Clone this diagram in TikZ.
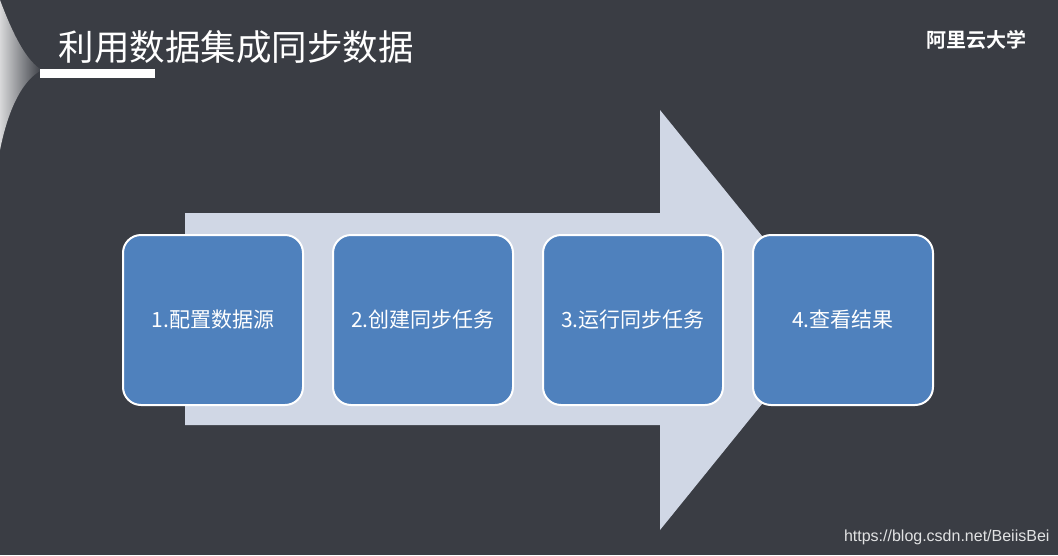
\documentclass[tikz,border=0pt]{standalone}
\usepackage{fontspec}
\setmainfont{Noto Sans CJK SC}
\newfontfamily\cjkb{Noto Sans CJK SC Bold}
\newfontfamily\wmfont{Liberation Sans}
\definecolor{bg}{HTML}{3A3D44}
\definecolor{arr}{HTML}{D0D7E5}
\definecolor{boxc}{HTML}{4F81BD}
\tikzset{stepbox/.style={draw=white,line width=2pt,fill=boxc,rounded corners=18pt,text=white,font=\fontsize{21}{24}\selectfont,minimum width=180pt,minimum height=170pt}}
\begin{document}
\begin{tikzpicture}[x=1pt,y=-1pt]
\fill[bg] (0,0) rectangle (1058,555);
\useasboundingbox (0,0) rectangle (1058,555);
% decorative swoosh
\shade[left color=white!80!bg,right color=bg] (0,0) .. controls (15,40) and (28,62) .. (42,70) .. controls (22,80) and (8,110) .. (0,150) -- cycle;
\node[anchor=west,text=white,font=\fontsize{35.5}{38}\selectfont] (title) at (55,47) {利用数据集成同步数据};
\fill[white] (40,69) rectangle (155,78);
\node[anchor=east,text=white,font=\cjkb\fontsize{20}{22}\selectfont] (brand) at (1030,40) {阿里云大学};
\fill[arr] (185,213) -- (660,213) -- (660,110) -- (830,320) -- (660,530) -- (660,425) -- (185,425) -- cycle;
\node[stepbox] (s1) at (213,320) {1.配置数据源};
\node[stepbox] (s2) at (423,320) {2.创建同步任务};
\node[stepbox] (s3) at (633,320) {3.运行同步任务};
\node[stepbox] (s4) at (843,320) {4.查看结果};
\node[anchor=east,text=white!85!bg,font=\wmfont\fontsize{16}{18}\selectfont] (wm) at (1053,537) {https://blog.csdn.net/BeiisBei};
\end{tikzpicture}
\end{document}
